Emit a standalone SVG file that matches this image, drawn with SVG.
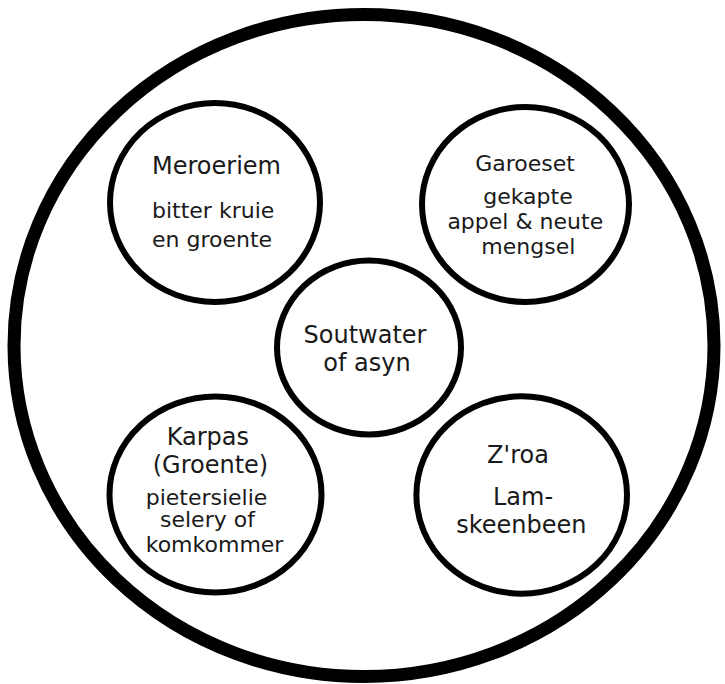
<svg xmlns="http://www.w3.org/2000/svg" width="725" height="684" viewBox="0 0 725 684">
<style>
.plate{fill:#fff;stroke:#000;stroke-width:13}
.dish{fill:#fff;stroke:#000;stroke-width:6}
text{font-family:"DejaVu Sans",sans-serif;fill:#1a1a1a;font-size:22px}
.h{font-size:24px}
</style>
<rect width="725" height="684" fill="#fff"/>
<g id="plate"><ellipse class="plate" cx="364" cy="345.5" rx="350" ry="331"/></g>
<g id="connectors"></g>
<g id="meroeriem">
<ellipse class="dish" cx="215" cy="202.5" rx="105" ry="99.5"/>
<text class="h" x="152" y="174">Meroeriem</text>
<text x="152" y="218">bitter kruie</text>
<text x="152" y="246.5">en groente</text>
</g>
<g id="garoeset">
<ellipse class="dish" cx="525.5" cy="204.5" rx="103.5" ry="97.5"/>
<text x="525" y="170.5" text-anchor="middle">Garoeset</text>
<text x="528" y="204" text-anchor="middle">gekapte</text>
<text x="525.3" y="229.3" text-anchor="middle">appel &amp; neute</text>
<text x="528.3" y="254" text-anchor="middle">mengsel</text>
</g>
<g id="soutwater">
<ellipse class="dish" cx="369" cy="347.5" rx="92" ry="87"/>
<text class="h" x="365" y="343.3" text-anchor="middle">Soutwater</text>
<text class="h" x="367" y="371" text-anchor="middle">of asyn</text>
</g>
<g id="karpas">
<ellipse class="dish" cx="215.5" cy="494.5" rx="106" ry="98"/>
<text class="h" x="166.7" y="445">Karpas</text>
<text class="h" x="152.7" y="473.3">(Groente)</text>
<text x="145.7" y="505">pietersielie</text>
<text x="160" y="526.7">selery of</text>
<text x="145.7" y="551.7">komkommer</text>
</g>
<g id="zroa">
<ellipse class="dish" cx="521.7" cy="495" rx="105.3" ry="98.7"/>
<text class="h" x="518" y="462.7" text-anchor="middle">Z'roa</text>
<text class="h" x="523" y="505" text-anchor="middle">Lam-</text>
<text class="h" x="521.3" y="533.3" text-anchor="middle">skeenbeen</text>
</g>
</svg>
